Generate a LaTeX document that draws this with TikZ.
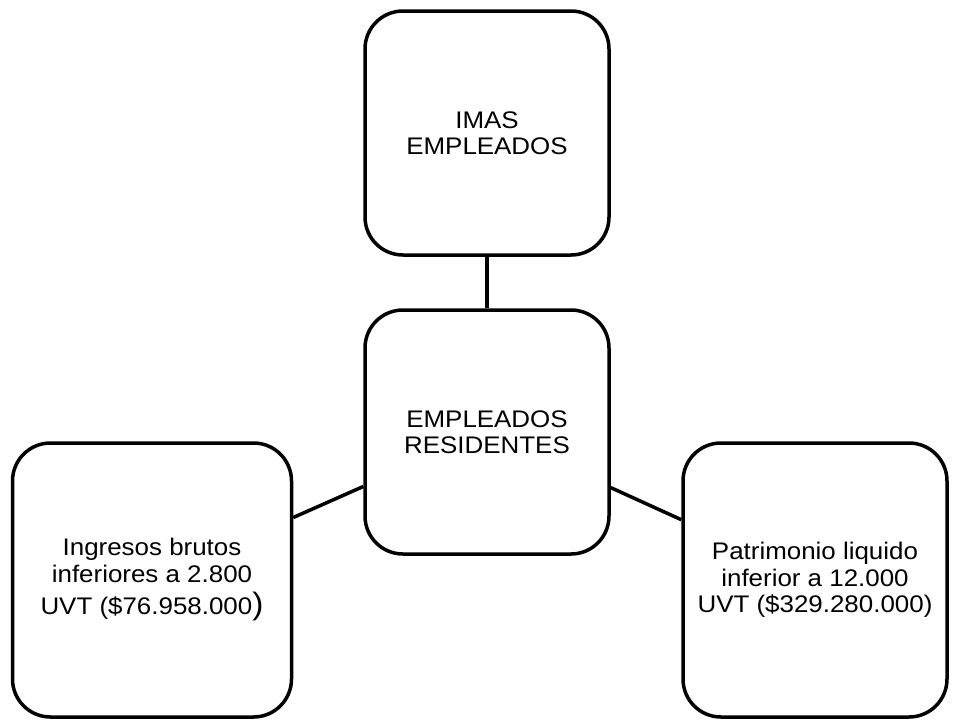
\documentclass[tikz,border=0pt]{standalone}
\usepackage{fontspec}
\setmainfont{Liberation Sans}[FakeStretch=1.08]
\usetikzlibrary{positioning}

\tikzset{
  caja/.style={draw=black, line width=3.5pt, rounded corners=38pt, align=center,
    inner sep=0pt, font=\fontsize{24}{26.5}\selectfont},
  enlace/.style={line width=3.5pt}
}

\begin{document}
\begin{tikzpicture}[x=1pt,y=-1pt]
    \useasboundingbox (0,0) rectangle (956,721);

    \node[caja, minimum width=244pt, minimum height=244pt] (imas) at (487,133) {IMAS\\EMPLEADOS};
    \node[caja, minimum width=244pt, minimum height=244pt] (residentes) at (487,432) {EMPLEADOS\\RESIDENTES};
    \node[caja, minimum width=279pt, minimum height=274pt] (ingresos) at (152,580)
        {Ingresos brutos\\inferiores a 2.800\\[6pt]UVT (\$76.958.000{\fontsize{31}{31}\selectfont)}};
    \node[caja, minimum width=264pt, minimum height=274pt] (patrimonio) at (815,580)
        {Patrimonio liquido\\inferior a 12.000\\UVT (\$329.280.000)};

    \draw[enlace] (imas) -- (residentes);
    \draw[enlace] (ingresos) -- (residentes);
    \draw[enlace] (patrimonio) -- (residentes);

\end{tikzpicture}
\end{document}
